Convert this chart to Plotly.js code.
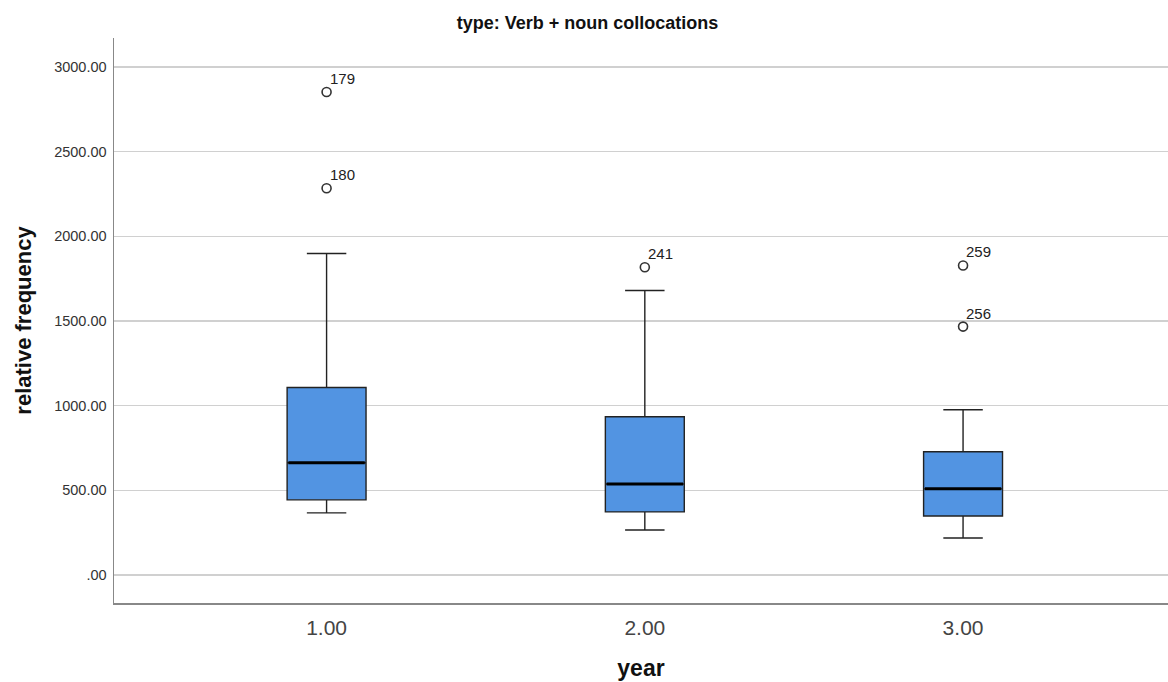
<!DOCTYPE html>
<html>
<head>
<meta charset="utf-8">
<script src="https://cdn.plot.ly/plotly-3.0.1.min.js"></script>
<style>html,body{margin:0;padding:0;background:#fff}#chart{width:1168px;height:682px}</style>
</head>
<body>
<div id="chart"></div>
<script>
const categories = ["1.00", "2.00", "3.00"];
const positions = [1, 2, 3];
const lowerWhisker = [367, 266, 219];
const q1 = [444, 373, 349];
const median = [663, 538, 509];
const q3 = [1107, 935, 728];
const upperWhisker = [1899, 1680, 976];
const outlierGroup = [1, 1, 2, 3, 3];
const outlierValue = [2852, 2284, 1817, 1828, 1467];
const outlierId = ["179", "180", "241", "259", "256"];
const yTicks = [0, 500, 1000, 1500, 2000, 2500, 3000];
const yTickText = [".00", "500.00", "1000.00", "1500.00", "2000.00", "2500.00", "3000.00"];

const boxW = 0.248;
const traces = [{
  type: 'box',
  x: positions,
  q1: q1, median: median, q3: q3,
  lowerfence: lowerWhisker, upperfence: upperWhisker,
  width: boxW,
  whiskerwidth: 0.5,
  fillcolor: '#5294e2',
  line: {color: '#222222', width: 1.4},
  boxpoints: false,
  hoverinfo: 'skip',
  showlegend: false
}];
positions.forEach((p, i) => {
  traces.push({
    type: 'scatter', mode: 'lines',
    x: [p - boxW / 2 + 0.004, p + boxW / 2 - 0.004],
    y: [median[i], median[i]],
    line: {color: '#000000', width: 3},
    hoverinfo: 'skip', showlegend: false
  });
});
traces.push({
  type: 'scatter', mode: 'markers',
  x: outlierGroup, y: outlierValue,
  marker: {symbol: 'circle-open', size: 9, color: '#333333', line: {width: 1.6, color: '#333333'}},
  hoverinfo: 'skip', showlegend: false
});
const annotations = outlierId.map((t, i) => ({
  x: outlierGroup[i], y: outlierValue[i], xref: 'x', yref: 'y',
  text: t, showarrow: false, xanchor: 'left', yanchor: 'bottom',
  xshift: 1, yshift: 3,
  font: {family: 'Liberation Sans, Arial, sans-serif', size: 15, color: '#222222'}
}));

const layout = {
  width: 1168, height: 682,
  margin: {l: 114, r: 0, t: 38, b: 79},
  paper_bgcolor: '#ffffff', plot_bgcolor: '#ffffff',
  font: {family: 'Liberation Sans, Arial, sans-serif', color: '#333333'},
  title: {
    text: '<b>type: Verb + noun collocations</b>',
    font: {size: 18, color: '#111111'},
    xref: 'container', x: 0.503, y: 0.966, yanchor: 'middle'
  },
  xaxis: {
    range: [0.332, 3.644],
    tickvals: positions, ticktext: categories,
    tickfont: {size: 21, color: '#444444'},
    ticks: 'outside', ticklen: 5, tickcolor: 'rgba(0,0,0,0)',
    showgrid: false, zeroline: false,
    showline: true, linecolor: '#888888', linewidth: 1.5,
    title: {text: '<b>year</b>', font: {size: 23, color: '#111111'}, standoff: 22}
  },
  yaxis: {
    range: [-165, 3171],
    tickvals: yTicks, ticktext: yTickText,
    tickfont: {size: 14.5, color: '#333333'},
    ticks: 'outside', ticklen: 3, tickcolor: 'rgba(0,0,0,0)',
    showgrid: true, gridcolor: '#d0d0d0', gridwidth: 1.6,
    zeroline: false,
    showline: true, linecolor: '#888888', linewidth: 1.5,
    title: {text: '<b>relative frequency</b>', font: {size: 22, color: '#111111'}, standoff: 16}
  },
  annotations: annotations
};
Plotly.newPlot('chart', traces, layout, {displayModeBar: false, staticPlot: true});
</script>
</body>
</html>
